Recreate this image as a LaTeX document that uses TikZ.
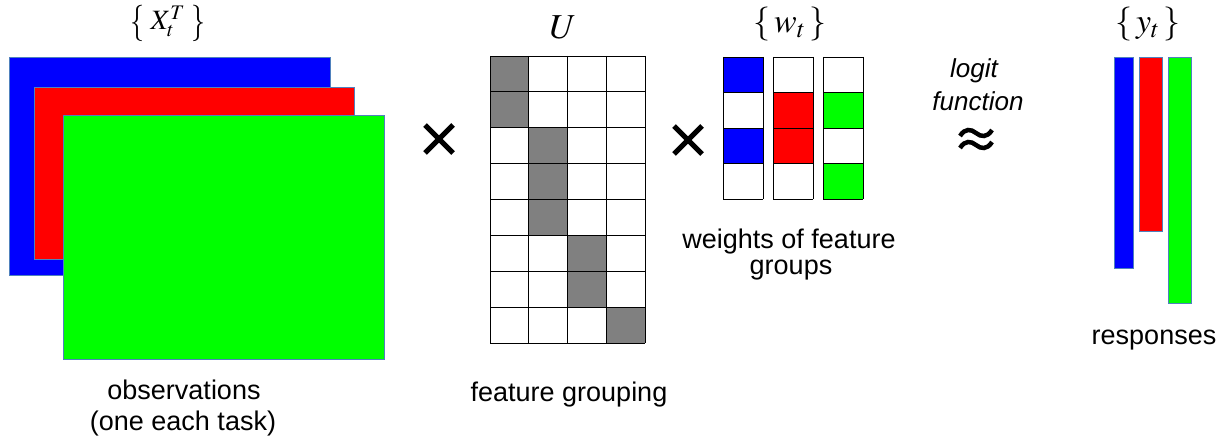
\documentclass[tikz,border=0pt]{standalone}
\usepackage{mathptmx}
\usepackage{fontspec}
\setmainfont{Liberation Sans}
\definecolor{pblue}{HTML}{0000FF}
\definecolor{pred}{HTML}{FF0000}
\definecolor{pgreen}{HTML}{00FF00}
\definecolor{bordc}{HTML}{4F81BD}
\definecolor{cellgray}{HTML}{808080}
\newcommand{\tallbrace}[1]{\raisebox{-0.12em}{\scalebox{1}[1.3]{$#1$}}}
\begin{document}
\begin{tikzpicture}[x=1pt,y=-1pt,
  plate/.style={draw=bordc, line width=1pt},
  cell/.style={draw=black, line width=0.9pt},
  lbl/.style={font=\fontsize{27}{32}\selectfont, inner sep=0pt},
  ital/.style={font=\fontsize{26}{30}\selectfont\itshape, inner sep=0pt},
  mth/.style={font=\fontsize{20}{24}\selectfont, inner sep=0pt},
  op/.style={line width=5pt}]
\useasboundingbox (0,0) rectangle (1225,444);

% observation plates
\draw[plate, fill=pblue] (9,58) rectangle (330,275);
\draw[plate, fill=pred] (34,87) rectangle (354,259);
\draw[plate, fill=pgreen] (63,115) rectangle (384,359);

% U grid
\foreach \r/\c in {0/0,1/0,2/1,3/1,4/1,5/2,6/2,7/3}
  \fill[cellgray] ({490+38.75*\c},{56+35.875*\r}) rectangle ++(38.75,35.875);
\foreach \i in {0,...,4}
  \draw[cell] ({490+38.75*\i},56) -- ({490+38.75*\i},343);
\foreach \j in {0,...,8}
  \draw[cell] (490,{56+35.875*\j}) -- (645,{56+35.875*\j});

% weights
\foreach \x/\a/\b/\c/\d in {723/pblue/white/pblue/white, 773/white/pred/pred/white, 823/white/pgreen/white/pgreen}{
  \fill[\a] (\x,57) rectangle ++(40,35.5);
  \fill[\b] (\x,92.5) rectangle ++(40,35.5);
  \fill[\c] (\x,128) rectangle ++(40,35.5);
  \fill[\d] (\x,163.5) rectangle ++(40,35.5);
  \foreach \j in {0,...,4} \draw[cell] (\x,{57+35.5*\j}) -- ++(40,0);
  \draw[cell] (\x,57) -- (\x,199) (\x+40,57) -- (\x+40,199);
}

% responses
\draw[plate, fill=pblue] (1114,58) rectangle (1133,268);
\draw[plate, fill=pred] (1139,58) rectangle (1162,231);
\draw[plate, fill=pgreen] (1168,58) rectangle (1191,303);

% operators
\draw[op] (425,125) -- (453,153) (425,153) -- (453,125);
\draw[op] (674,126) -- (702,154) (674,154) -- (702,126);
\foreach \y in {133,145}
  \draw[line width=4.5pt] (960,\y+3) .. controls (965,\y-5) and (971,\y-4) .. (976,\y) .. controls (981,\y+4) and (987,\y+5) .. (992,\y-3);

% math labels
\node[mth, scale=1.4] (lx) at (168,24) {\tallbrace{\{}$\;X_t^T\;$\tallbrace{\}}};
\node[mth, scale=1.75] (lu) at (563,27) {$U$};
\node[mth, scale=1.7] (lw) at (790,24) {$\{\,w_t\,\}$};
\node[mth, scale=1.7] (ly) at (1148,24) {$\{\,y_t\,\}$};

% text labels
\node[ital] (lg1) at (974,71) {logit};
\node[ital] (lg2) at (978,101) {function};
\node[lbl] (ob1) at (184,390) {observations};
\node[lbl] (ob2) at (183,424) {(one each task)};
\node[lbl] (fg) at (569,395) {feature grouping};
\node[lbl] (wf1) at (789,242) {weights of feature};
\node[lbl] (wf2) at (791,270) {groups};
\node[lbl] (rs) at (1154,340) {responses};
\end{tikzpicture}
\end{document}
